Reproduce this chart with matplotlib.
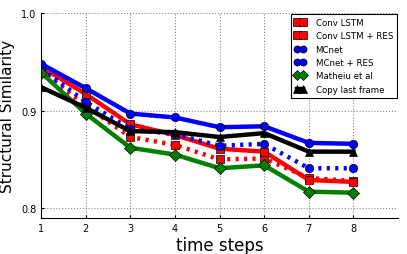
import numpy as np
import matplotlib
matplotlib.use('Agg')
import matplotlib.pyplot as plt

# time steps and SSIM per method
steps = [1, 2, 3, 4, 5, 6, 7, 8]
conv_lstm = [0.941, 0.905, 0.873, 0.865, 0.850, 0.851, 0.831, 0.828]
conv_lstm_res = [0.945, 0.917, 0.886, 0.875, 0.861, 0.858, 0.829, 0.827]
mcnet = [0.943, 0.909, 0.881, 0.876, 0.864, 0.866, 0.841, 0.841]
mcnet_res = [0.948, 0.923, 0.897, 0.893, 0.883, 0.884, 0.867, 0.866]
matheiu = [0.939, 0.897, 0.862, 0.855, 0.841, 0.844, 0.817, 0.816]
copy_last = [0.924, 0.903, 0.879, 0.878, 0.873, 0.877, 0.858, 0.858]

fig = plt.figure(figsize=(4.07, 2.55), dpi=100)
ax = fig.add_axes([0.101, 0.141, 0.877, 0.804])

lw = 3.2
ms = 6
dot = (0, (0.7, 1.2))
ax.plot(steps, conv_lstm, color='r', ls=dot, lw=lw, marker='s', ms=ms, mec='k', mew=0.5, label='Conv LSTM')
ax.plot(steps, conv_lstm_res, color='r', ls='-', lw=lw, marker='s', ms=ms, mec='k', mew=0.5, label='Conv LSTM + RES')
ax.plot(steps, mcnet, color='b', ls=dot, lw=lw, marker='o', ms=ms, mec='k', mew=0.5, label='MCnet')
ax.plot(steps, mcnet_res, color='b', ls='-', lw=lw, marker='o', ms=ms, mec='k', mew=0.5, label='MCnet + RES')
ax.plot(steps, matheiu, color='g', ls='-', lw=lw, marker='D', ms=ms, mec='k', mew=0.5, label='Matheiu et al')
ax.plot(steps, copy_last, color='k', ls='-', lw=lw, marker='^', ms=ms, mec='k', mew=0.5, label='Copy last frame')

ax.set_xlim(1, 9)
ax.set_ylim(0.79, 1.0)
ax.set_xticks(steps)
ax.set_yticks([0.8, 0.9, 1.0])
ax.tick_params(labelsize=7, length=2, direction='in')
ax.grid(True, ls=':', color='#888888', lw=0.8)
ax.spines['top'].set_visible(False)
ax.spines['right'].set_visible(False)

ax.set_xlabel('time steps', fontsize=12, labelpad=2)
ax.set_ylabel('Structural Similarity', fontsize=11, labelpad=4)

leg = ax.legend(loc='upper right', fontsize=6.2, numpoints=2, fancybox=False,
                framealpha=1, edgecolor='k', borderpad=0.45, labelspacing=0.5,
                handlelength=1.3, handletextpad=1.1, borderaxespad=0.15,
                markerscale=0.85)
leg.get_frame().set_linewidth(0.8)

fig.savefig('out.png', dpi=100)
